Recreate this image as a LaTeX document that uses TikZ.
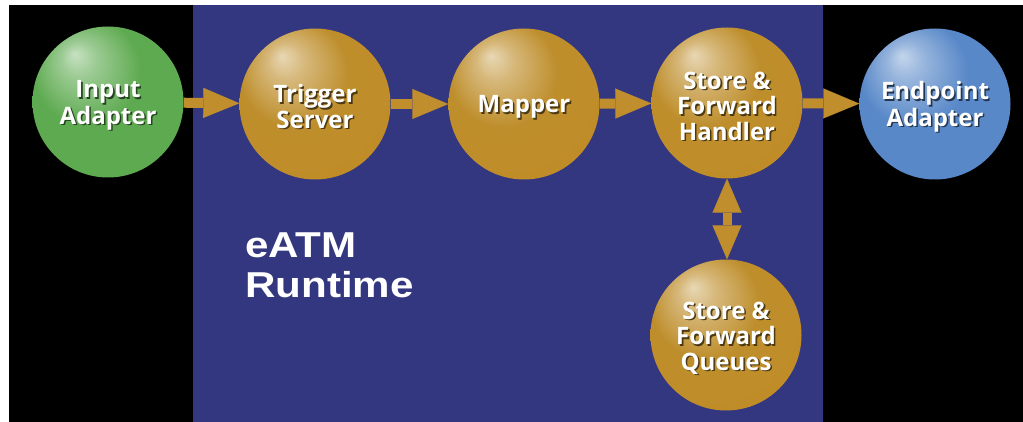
\documentclass[tikz,border=0pt]{standalone}
\usepackage{fontspec}
\usetikzlibrary{arrows.meta}
\newfontfamily\circfont{Open Sans}
\newfontfamily\eatmfont{Liberation Sans}[FakeStretch=1.17]
\definecolor{cpanel}{RGB}{51,55,128}
\definecolor{cgold}{RGB}{190,142,44}
\definecolor{cgoldlo}{RGB}{194,138,34}
\definecolor{cgreen}{RGB}{94,170,80}
\definecolor{cblue}{RGB}{88,136,200}
\definecolor{carrow}{RGB}{192,142,44}
\colorlet{goldsh}{cgold!40!black}
\colorlet{greensh}{cgreen!40!black}
\colorlet{bluesh}{cblue!40!black}
\colorlet{shc}{black}
\pgfdeclareradialshading{goldball}{\pgfpoint{-11bp}{16bp}}{color(0bp)=(cgold!35!white); color(6bp)=(cgold!62!white); color(18bp)=(cgold); color(50bp)=(cgoldlo)}
\pgfdeclareradialshading{greenball}{\pgfpoint{-11bp}{16bp}}{color(0bp)=(cgreen!35!white); color(6bp)=(cgreen!62!white); color(18bp)=(cgreen); color(50bp)=(cgreen)}
\pgfdeclareradialshading{blueball}{\pgfpoint{-11bp}{16bp}}{color(0bp)=(cblue!35!white); color(6bp)=(cblue!62!white); color(18bp)=(cblue); color(50bp)=(cblue)}
\newcommand\shd[1]{\leavevmode\rlap{\hspace{1.6pt}\raisebox{-1.6pt}{\textcolor{shc}{#1}}}#1}
\newcommand\shf[1]{\rule{0pt}{25pt}\shd{#1}}
\begin{document}
\begin{tikzpicture}[x=1pt,y=-1pt,
  ball/.style={circle, minimum size=151pt, inner sep=0pt, text=white, align=center,
    font=\circfont\bfseries\fontsize{24}{25.5}\selectfont},
  goldb/.style={ball, shading=goldball, execute at begin node=\colorlet{shc}{goldsh}},
  greenb/.style={ball, shading=greenball, execute at begin node=\colorlet{shc}{greensh}},
  blueb/.style={ball, shading=blueball, execute at begin node=\colorlet{shc}{bluesh}},
  flow/.style={draw=carrow, line width=10pt,
    -{Triangle[length=36pt,width=30pt,line width=0.1pt]}},
  dflow/.style={draw=carrow, line width=9pt,
    {Triangle[length=34pt,width=29pt,line width=0.1pt]}-{Triangle[length=34pt,width=29pt,line width=0.1pt]}},
  ]
\useasboundingbox (0,0) rectangle (1023,422);
\fill[white] (0,0) rectangle (1023,422);
\fill[black] (9,5) rectangle (1023,422);
\fill[cpanel] (193,5) rectangle (823,422);

\node[greenb] (input) at (108,102) {\shf{Input}\\\shd{Adapter}};
\node[goldb] (trigger) at (315,104) {\shf{Trigger}\\\shd{Server}};
\node[goldb] (mapper) at (524,104) {\shf{Mapper}};
\node[goldb] (handler) at (727,103) {\shf{Store \&}\\\shd{Forward}\\\shd{Handler}};
\node[blueb] (endpoint) at (935,104) {\shf{Endpoint}\\\shd{Adapter}};
\node[goldb] (queues) at (726,335) {\shf{Store \&}\\\shd{Forward}\\\shd{Queues}};

\node[anchor=base west, align=left, inner sep=0pt, text=white,
  font=\eatmfont\bfseries\fontsize{36}{39.5}\selectfont] (runtime) at (245,297) {eATM\\Runtime};

\draw[flow] (input) -- (trigger);
\draw[flow] (trigger) -- (mapper);
\draw[flow] (mapper) -- (handler);
\draw[flow] (handler) -- (endpoint);
\draw[dflow] (handler.south) -- (handler.south |- queues.north);
\end{tikzpicture}
\end{document}
